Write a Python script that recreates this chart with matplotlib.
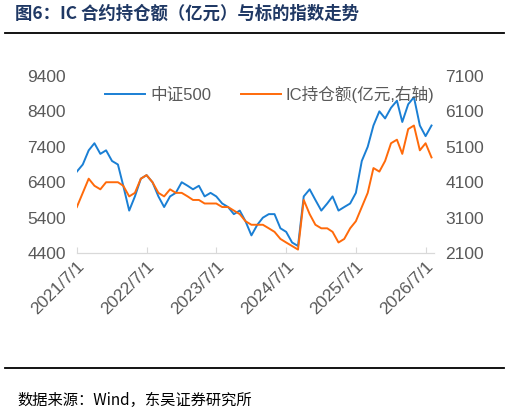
import matplotlib
matplotlib.use('Agg')
import matplotlib.pyplot as plt
import numpy as np
import pandas as pd

plt.rcParams['font.family'] = ['Liberation Sans', 'Noto Sans CJK SC', 'DejaVu Sans']

# monthly readings
months = pd.date_range('2021-07-01', '2026-08-01', freq='MS')
csi500 = [6700, 6900, 7300, 7500, 7200, 7300, 7000, 6900, 6300, 5600, 6000, 6500,
          6600, 6400, 6000, 5700, 6000, 6100, 6400, 6300, 6200, 6300, 6000, 6100,
          6000, 5800, 5700, 5500, 5600, 5300, 4900, 5200, 5400, 5500, 5500, 5100,
          5000, 4700, 4600, 6000, 6200, 5900, 5600, 5800, 6000, 5600, 5700, 5800,
          6100, 7000, 7400, 8000, 8400, 8200, 8500, 8700, 8100, 8600, 8800, 8000,
          7700, 8000]
ic_oi = [3400, 3800, 4200, 4000, 3900, 4100, 4100, 4100, 4000, 3700, 3800, 4200,
         4300, 4100, 3800, 3700, 3900, 3800, 3800, 3700, 3600, 3600, 3500, 3500,
         3500, 3400, 3400, 3300, 3200, 3000, 2900, 2900, 2900, 2800, 2700, 2500,
         2400, 2300, 2200, 3600, 3200, 2900, 2800, 2800, 2700, 2400, 2500, 2800,
         3000, 3400, 3800, 4500, 4400, 4700, 5200, 5300, 4900, 5600, 5700, 5000,
         5200, 4800]
xticks = pd.date_range('2021-07-01', '2026-07-01', freq='12MS')
xlabels = ['2021/7/1', '2022/7/1', '2023/7/1', '2024/7/1', '2025/7/1', '2026/7/1']

fig = plt.figure(figsize=(5.09, 4.17), dpi=100)
ax = fig.add_axes([0.151, 0.393, 0.702, 0.425])
ax2 = ax.twinx()

l1, = ax.plot(months, csi500, color='#1a7fd4', lw=1.4, label='中证500')
l2, = ax2.plot(months, ic_oi, color='#ff6a0a', lw=1.4, label='IC持仓额(亿元,右轴)')

ax.set_ylim(4400, 9400)
ax.set_yticks(np.arange(4400, 9401, 1000))
ax2.set_ylim(2100, 7100)
ax2.set_yticks(np.arange(2100, 7101, 1000))
ax.set_xlim(pd.Timestamp('2021-07-01'), pd.Timestamp('2026-08-15'))
ax.set_xticks(xticks)
ax.set_xticklabels(xlabels, rotation=45, ha='right', rotation_mode='anchor')

for a in (ax, ax2):
    for s in ('top', 'left', 'right'):
        a.spines[s].set_visible(False)
    a.spines['bottom'].set_color('#d9d9d9')
    a.tick_params(colors='#595959', labelsize=12.5, length=0, pad=8)
ax.tick_params(axis='x', direction='in', length=4, color='#d9d9d9', pad=4)

ax.legend(handles=[l1, l2], loc='upper left', bbox_to_anchor=(0.06, 0.98), ncol=2,
          frameon=False, fontsize=12, labelcolor='#595959', handlelength=2.4,
          handletextpad=0.3, columnspacing=1.8, borderaxespad=0)

fig.text(0.03, 0.955, '图6：IC 合约持仓额（亿元）与标的指数走势', fontsize=12.5, fontweight='bold',
         color='#1f3864', family=['Noto Sans CJK SC', 'DejaVu Sans'])
fig.add_artist(plt.Line2D([0.01, 0.99], [0.922, 0.922], color='black', lw=1.3))
fig.add_artist(plt.Line2D([0.01, 0.99], [0.118, 0.118], color='black', lw=1.3))
fig.text(0.035, 0.03, '数据来源：Wind，东吴证券研究所', fontsize=11, color='black',
         family=['Noto Sans CJK SC', 'DejaVu Sans'])

fig.savefig('out.png', dpi=100)
